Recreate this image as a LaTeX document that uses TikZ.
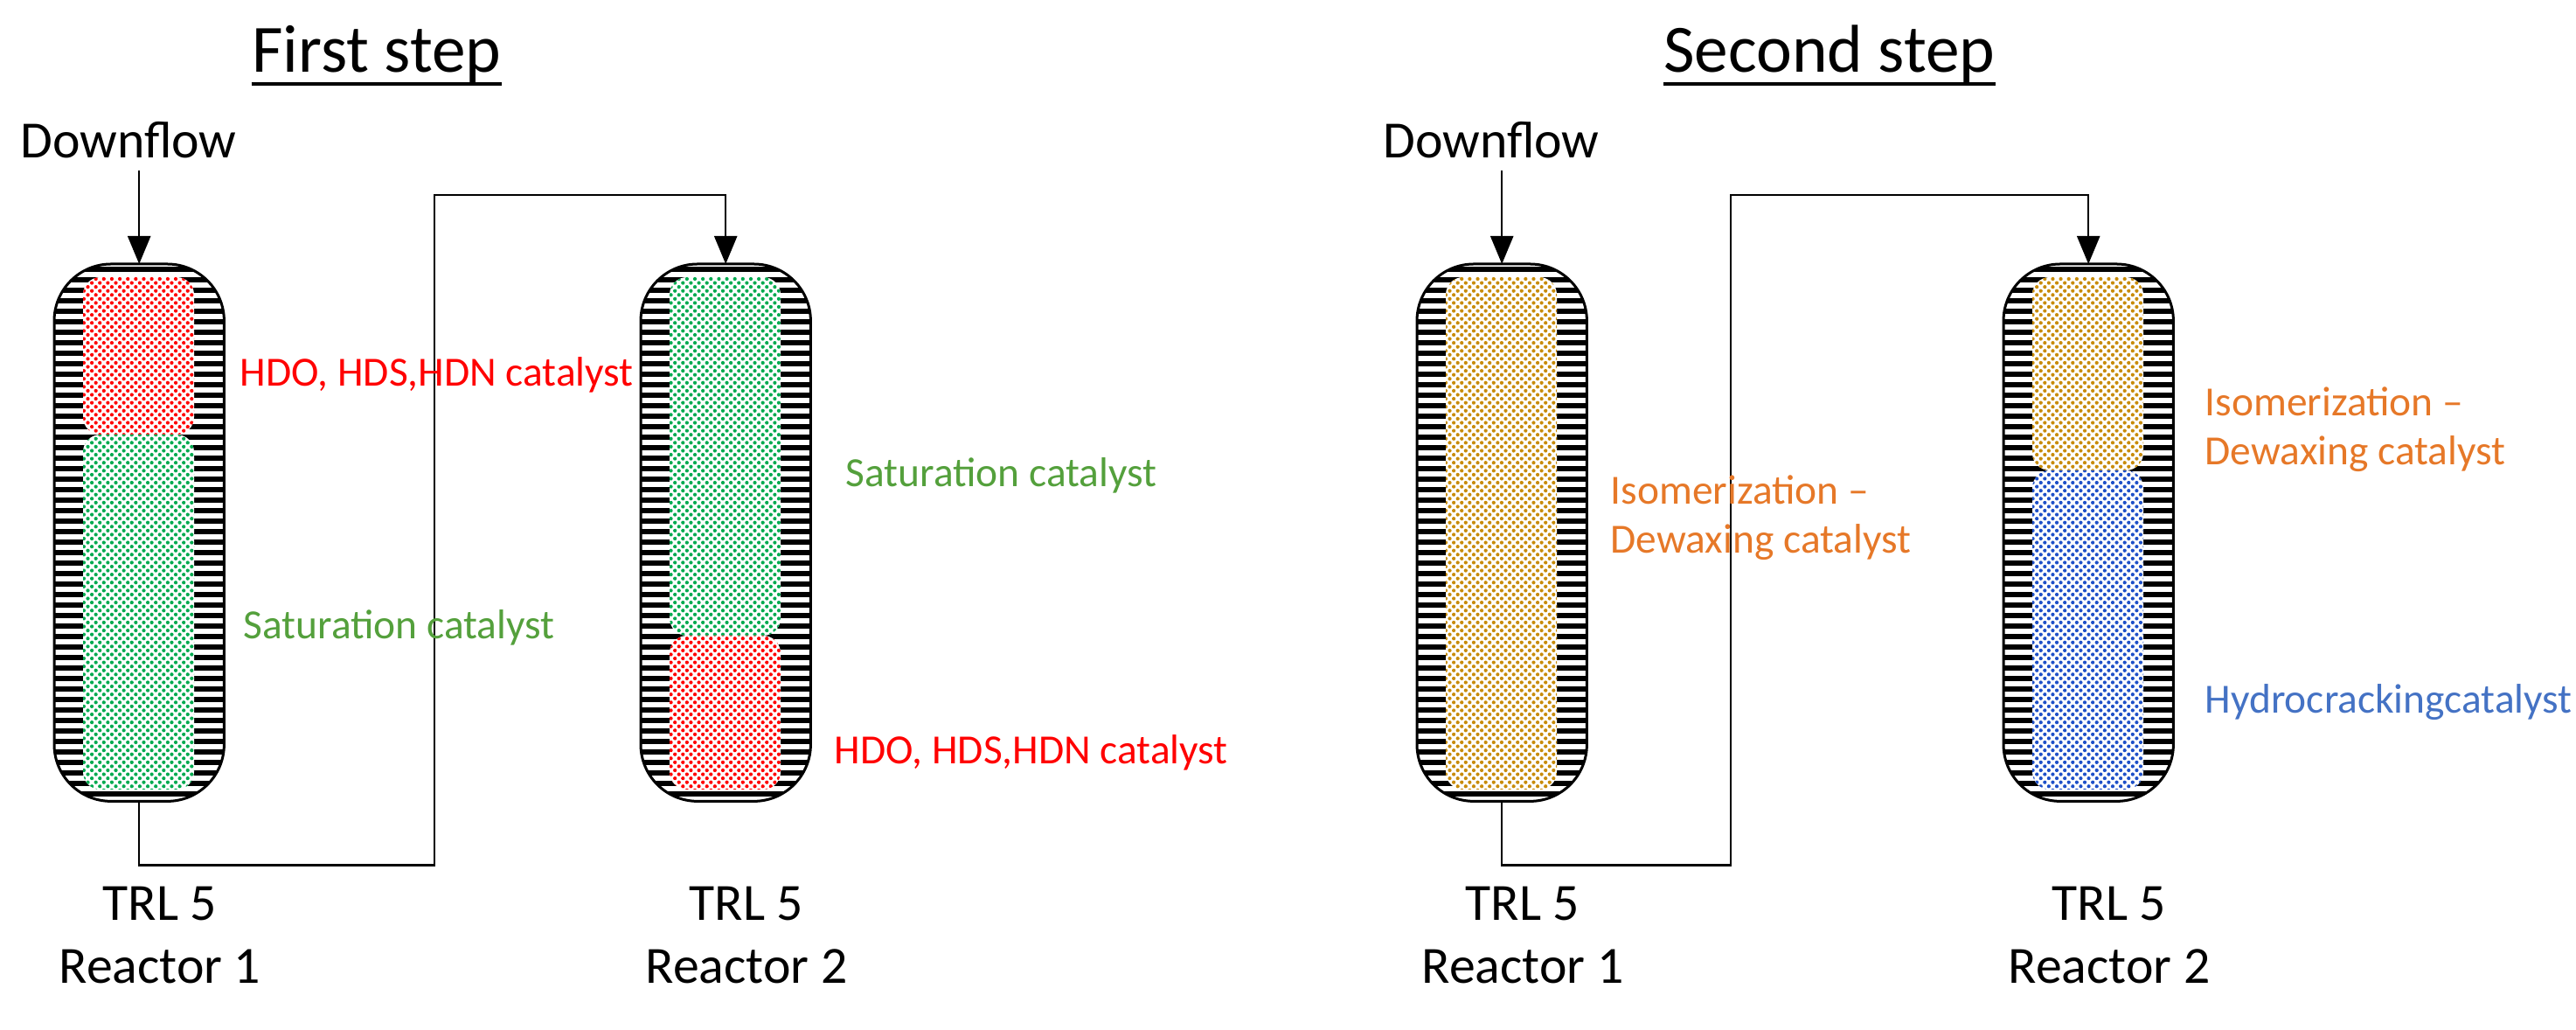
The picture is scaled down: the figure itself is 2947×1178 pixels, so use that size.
\documentclass[tikz,border=0pt]{standalone}
\usepackage{fontspec}
\setmainfont{Carlito}
\usetikzlibrary{patterns,arrows.meta,calc}
\definecolor{cred}{RGB}{255,0,0}
\definecolor{cgreen}{RGB}{0,170,80}
\definecolor{tgreen}{RGB}{84,160,60}
\definecolor{cgold}{RGB}{200,140,10}
\definecolor{torange}{RGB}{230,120,40}
\definecolor{cblue}{RGB}{30,80,200}
\definecolor{tblue}{RGB}{68,114,196}
\pgfdeclarepatternformonly{bigdots}{\pgfqpoint{-1pt}{-1pt}}{\pgfqpoint{3.6pt}{3.6pt}}{\pgfqpoint{2.6pt}{2.6pt}}{%
  \pgfpathcircle{\pgfqpoint{0pt}{0pt}}{0.6pt}
  \pgfpathcircle{\pgfqpoint{1.3pt}{1.3pt}}{0.6pt}
  \pgfusepath{fill}}
\newcommand{\myreactor}[2]{% #1 name, #2 left x
  \node[draw=none,minimum width=19.3mm,minimum height=61.3mm,inner sep=0pt,anchor=north west] (#1) at (#2,302) {};
  \begin{scope}
    \clip[rounded corners=6.5mm] (#1.north west) rectangle (#1.south east);
    \fill[white] (#1.north west) rectangle (#1.south east);
    \foreach \yy in {308,320,...,915} \draw[line width=0.6mm] (#2,\yy) -- ++(193,0);
  \end{scope}
  \draw[line width=0.3mm,rounded corners=6.5mm] (#1.north west) rectangle (#1.south east);
}
\newcommand{\mybed}[4]{% x, ytop, ybottom, color
  \fill[white,rounded corners=2mm] (#1+33,#2) rectangle (#1+160,#3);
  \fill[pattern=bigdots,pattern color=#4,rounded corners=2mm] (#1+33,#2) rectangle (#1+160,#3);
}
\begin{document}
\begin{tikzpicture}[x=0.1mm,y=-0.1mm,
  flow/.style={line width=0.25mm},
  arr/.style={flow,-{Triangle[length=3.2mm,width=2.6mm]}},
  lab/.style={font=\fontsize{13.5pt}{16pt}\selectfont,anchor=west,inner sep=0pt},
  big/.style={font=\fontsize{17pt}{20pt}\selectfont,inner sep=0pt},
  ttl/.style={font=\fontsize{22pt}{26pt}\selectfont,inner sep=0pt,anchor=base}]
\useasboundingbox (0,0) rectangle (2947,1178);
\node[ttl] (t1) at (431,83) {First step};
\node[ttl] (t2) at (2093,83) {Second step};
\draw[line width=0.4mm] ($(t1.base west)+(0,13)$) -- ($(t1.base east)+(0,13)$);
\draw[line width=0.4mm] ($(t2.base west)+(0,13)$) -- ($(t2.base east)+(0,13)$);

\myreactor{ra}{62}
\myreactor{rb}{733}
\myreactor{rc}{1621}
\myreactor{rd}{2292}

\mybed{62}{317}{497}{cred}
\mybed{62}{497}{903}{cgreen}
\mybed{733}{317}{727}{cgreen}
\mybed{733}{727}{903}{cred}
\mybed{1621}{317}{903}{cgold}
\mybed{2292}{317}{538}{cgold}
\mybed{2292}{538}{903}{cblue}

\node[big] (d1) at (147,160) {Downflow};
\node[big] (d2) at (1706,160) {Downflow};
\coordinate (a1) at (ra.north |- 0,195);
\coordinate (a2) at (rc.north |- 0,195);
\draw[arr] (a1) -- (ra.north);
\draw[arr] (a2) -- (rc.north);
\draw[arr] (ra.south) -- ++(0,73) -| (497,223) -| (rb.north);
\draw[arr] (rc.south) -- ++(0,73) -| (1980,223) -| (rd.north);

\node[lab,text=cred] (l1) at (274,429) {HDO, HDS,HDN catalyst};
\node[lab,text=tgreen] (l2) at (278,718) {Saturation catalyst};
\node[lab,text=tgreen] (l3) at (967,544) {Saturation catalyst};
\node[lab,text=cred] (l4) at (954,861) {HDO, HDS,HDN catalyst};
\node[lab,text=torange,align=left] (l5) at (1842,592) {Isomerization –\\Dewaxing catalyst};
\node[lab,text=torange,align=left] (l6) at (2522,491) {Isomerization –\\Dewaxing catalyst};
\node[lab,text=tblue] (l7) at (2522,803) {Hydrocrackingcatalyst};

\foreach \n/\x/\k in {a/183/1,b/854/2,c/1742/1,d/2413/2}{
  \node[big,anchor=base] (tr\n) at (\x,1053) {TRL 5};
  \node[big,anchor=base] (re\n) at (\x,1125) {Reactor \k};
}
\end{tikzpicture}
\end{document}
